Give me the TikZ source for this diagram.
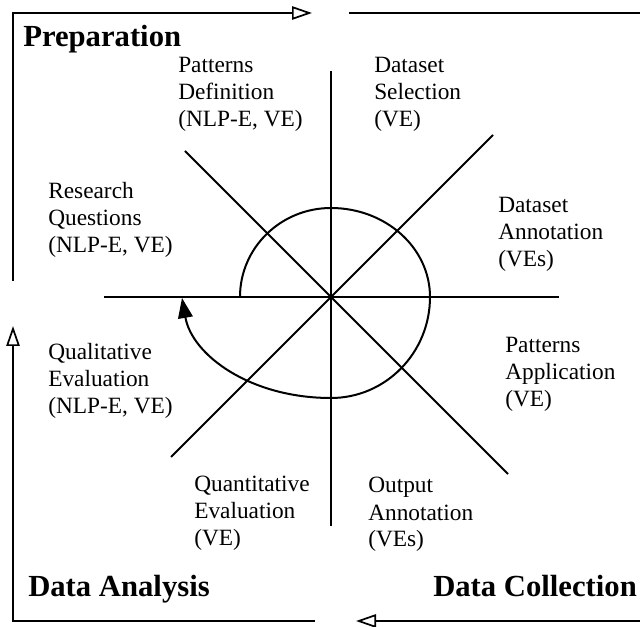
\documentclass[tikz,border=0pt]{standalone}
\usepackage{fontspec}
\setmainfont{Liberation Serif}
\usetikzlibrary{arrows.meta}
\begin{document}
\begin{tikzpicture}[x=0.75pt,y=-0.75pt,
  spoke/.style={line width=1.5pt},
  framing/.style={line width=1.6pt},
  openhead/.style={-{Triangle[open,length=15pt,width=10pt,line width=1.3pt]}},
  cyclehead/.style={-{Triangle[length=15pt,width=11pt]}},
  phase/.style={font=\fontsize{23}{26}\selectfont\bfseries, inner sep=0pt, anchor=base west},
  steplabel/.style={font=\fontsize{17.5}{20.25}\selectfont, inner sep=0pt, anchor=base west, align=left}]
\path[use as bounding box] (0,0) rectangle (640,627);

% centre and spoke ends
\coordinate (c) at (331,297);
\coordinate (n) at (331,71);
\coordinate (s) at (331,526);
\coordinate (w) at (104,297);
\coordinate (e) at (559,297);
\coordinate (nw) at (185,151);
\coordinate (se) at (508,474);
\coordinate (ne) at (493,135);
\coordinate (sw) at (171,457);

\draw[spoke] (n) -- (s);
\draw[spoke] (w) -- (e);
\draw[spoke] (nw) -- (se);
\draw[spoke] (ne) -- (sw);

% the cycle curve
\coordinate (cs) at (240,297);
\coordinate (ct) at (331,208);
\coordinate (cr) at (430,297);
\coordinate (cb) at (331,398);
\coordinate (cend) at (182,298);
\draw[spoke, cyclehead] (cs)
  .. controls (240,247.8) and (280.7,208) .. (ct)
  .. controls (385.7,208) and (430,247.8) .. (cr)
  .. controls (430,352.8) and (385.7,398) .. (cb)
  .. controls (250,398) and (192,355) .. (cend);

% outer frame
\coordinate (tl) at (13,13);
\coordinate (bl) at (13,621);
\coordinate (ltop) at (13,281);
\coordinate (ltip) at (13,326);
\coordinate (ttip) at (312,13);
\coordinate (tr0) at (349,13);
\coordinate (tr1) at (640,13);
\coordinate (bl1) at (315,621);
\coordinate (btip) at (356,621);
\coordinate (br) at (640,621);
\draw[framing, openhead] (ltop) -- (tl) -- (ttip);
\draw[framing] (tr0) -- (tr1);
\draw[framing, openhead] (bl1) -- (bl) -- (ltip);
\draw[framing, openhead] (br) -- (btip);

% phase titles
\node[phase] (prep) at (23,47) {Preparation};
\node[phase] (analysis) at (28,597) {Data Analysis};
\node[phase] (collection) at (433,597) {Data Collection};

% step labels (anchored at the baseline of the last line)
\node[steplabel] (pd) at (178,127) {Patterns\\Definition\\(NLP-E, VE)};
\node[steplabel] (ds) at (374,127) {Dataset\\Selection\\(VE)};
\node[steplabel] (rq) at (48,253) {Research\\Questions\\(NLP-E, VE)};
\node[steplabel] (da) at (498,267) {Dataset\\Annotation\\(VEs)};
\node[steplabel] (pa) at (505,407) {Patterns\\Application\\(VE)};
\node[steplabel] (ql) at (48,414) {Qualitative\\Evaluation\\(NLP-E, VE)};
\node[steplabel] (qn) at (194,546) {Quantitative\\Evaluation\\(VE)};
\node[steplabel] (oa) at (368,547) {Output\\Annotation\\(VEs)};
\end{tikzpicture}
\end{document}
